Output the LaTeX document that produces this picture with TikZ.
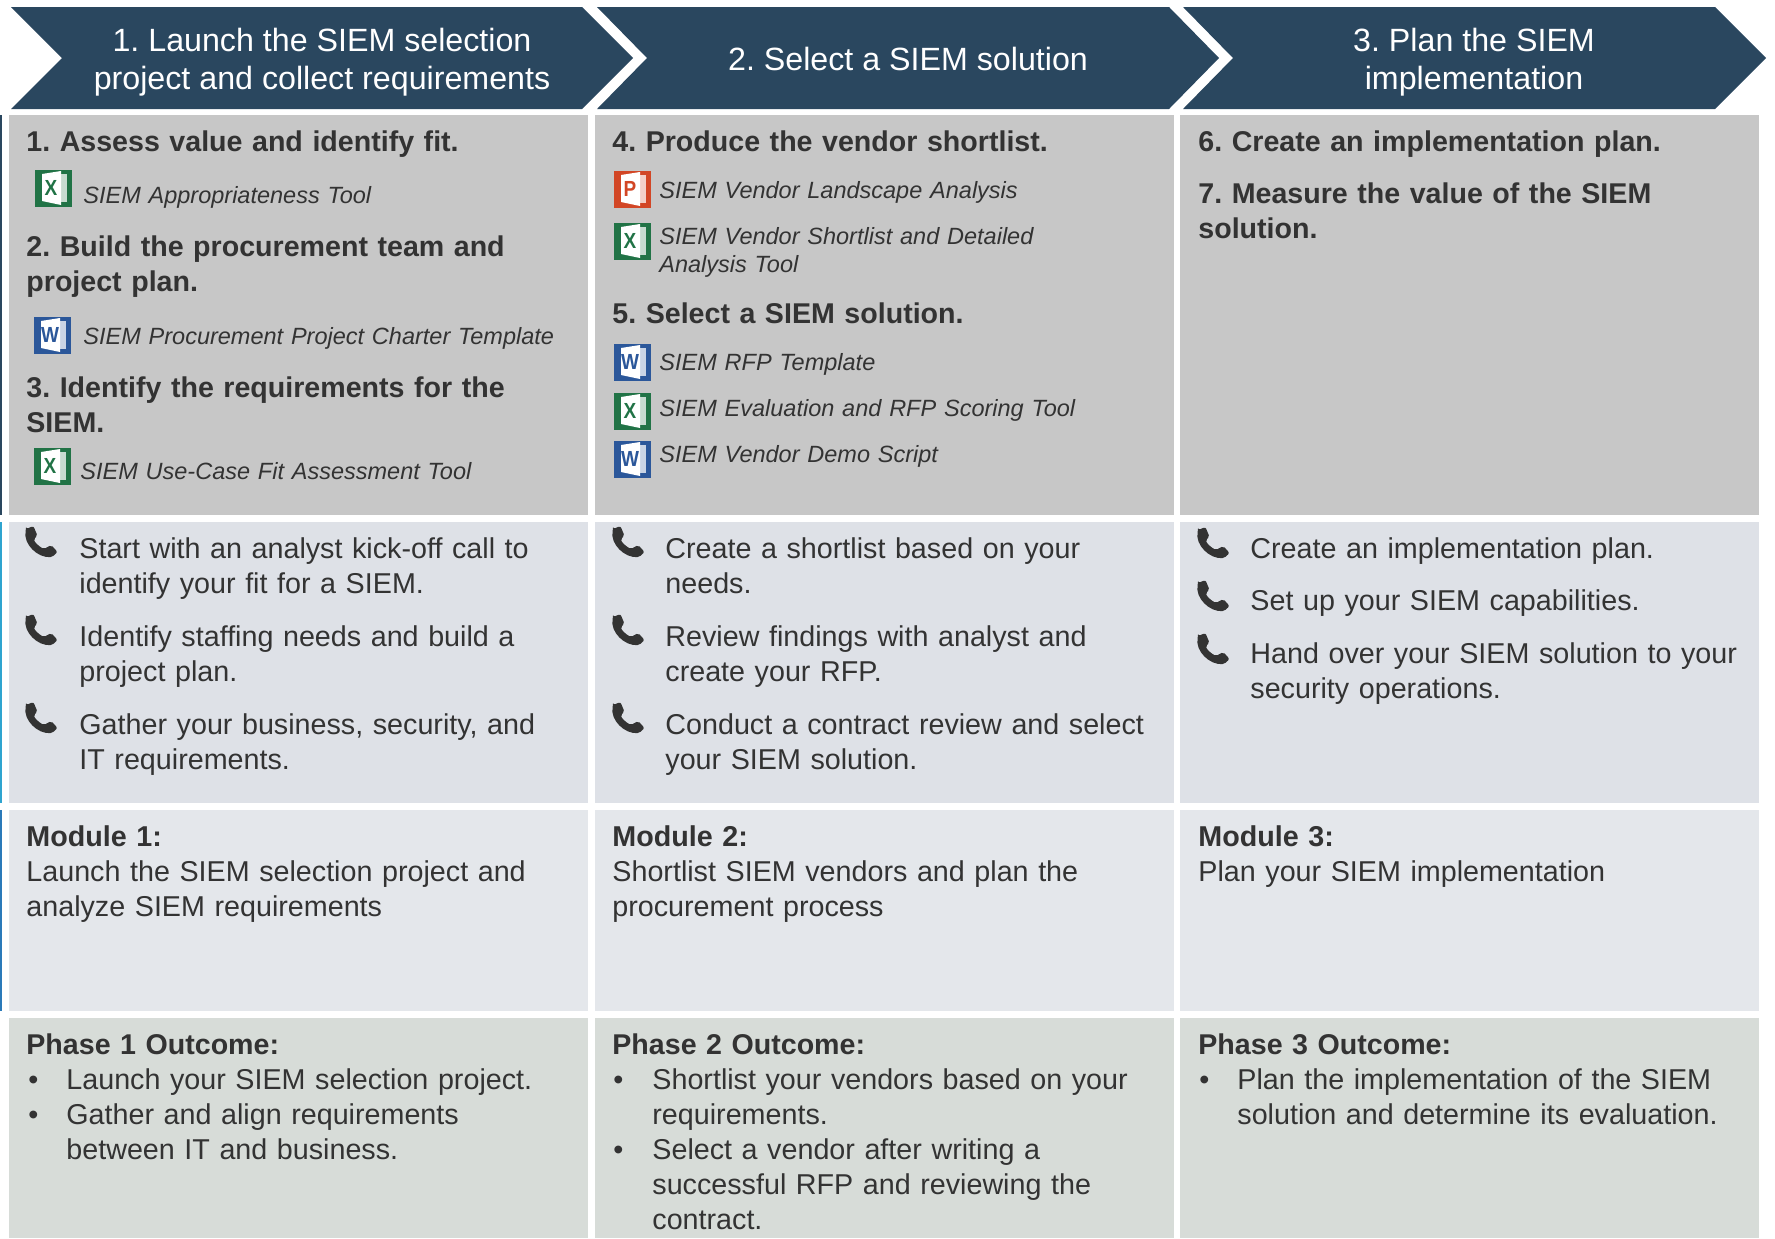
\documentclass[tikz,border=0pt]{standalone}
\usepackage{fontspec}
\setmainfont{Liberation Sans}
\frenchspacing
\definecolor{hdrblue}{rgb}{0.165,0.278,0.373}
\definecolor{txtgray}{rgb}{0.2,0.2,0.2}
\definecolor{rowa}{rgb}{0.78,0.78,0.78}
\definecolor{rowb}{rgb}{0.871,0.882,0.906}
\definecolor{rowc}{rgb}{0.894,0.906,0.922}
\definecolor{rowd}{rgb}{0.843,0.863,0.847}
\definecolor{stripa}{rgb}{0.165,0.278,0.373}
\definecolor{stripb}{rgb}{0.184,0.643,0.812}
\definecolor{stripc}{rgb}{0.165,0.478,0.725}
\definecolor{xlgreen}{rgb}{0.129,0.451,0.275}
\definecolor{ppred}{rgb}{0.824,0.275,0.145}
\definecolor{wdblue}{rgb}{0.169,0.341,0.604}
\newcommand{\fileicon}[5]{%
\fill [color=#3,shift={(#1,#2)}] (0,0) rectangle (37,37);
\fill [color=white,opacity=0.75,shift={(#1,#2)}] (25,4) rectangle (32,32);
\fill [color=white,shift={(#1,#2)}] (7,4) -- (26,1) -- (26,35) -- (7,31) -- cycle;
\node [color=#3,font=\fontsize{9.5}{9.5}\selectfont\bfseries,inner sep=0pt,yscale=1.15] (#5) at ([shift={(16,17.5)}]#1,#2) {#4};
}
\newcommand{\phoneicon}[2]{%
\fill [color=txtgray,rounded corners=1pt,shift={(#1,#2)},xscale=1.05] (1,3) -- (8,0) -- (12,10) -- (8,13) .. controls (10,17) and (13,20) .. (18,23) -- (25,19) -- (31,26) -- (26,31) .. controls (12,32) and (-2,18) .. (1,3) -- cycle;
}
\begin{document}
\begin{tikzpicture}[line cap=round,line join=round,x=0.5pt,y=-0.5pt,
 hdrtxt/.style={color=white,align=center,inner sep=0pt,font=\fontsize{16.1}{19}\selectfont},
 headtxt/.style={color=txtgray,anchor=base west,inner sep=0pt,text width=285pt,align=left,font=\fontsize{14.3}{17.6}\selectfont\bfseries},
 tooltxt/.style={color=txtgray,anchor=base west,inner sep=0pt,text width=240pt,align=left,font=\fontsize{11.75}{14.2}\selectfont\itshape},
 bodytxt/.style={color=txtgray,anchor=base west,inner sep=0pt,text width=285pt,align=left,font=\fontsize{14.35}{17.6}\selectfont},
 bulltxt/.style={color=txtgray,anchor=base west,inner sep=0pt,font=\fontsize{14.35}{17.6}\selectfont}]
\useasboundingbox (0,0) rectangle (1775,1238);
\clip (0,0) rectangle (1775,1238);
% side strips
\fill [color=stripa] (0,115) rectangle (2,515);
\fill [color=stripb] (0,522) rectangle (2,803);
\fill [color=stripc] (0,810) rectangle (2,1011);
% rows
\foreach \x in {9,594.5,1180} {
\fill [color=rowa] (\x,115) rectangle (\x+579,515);
\fill [color=rowb] (\x,522) rectangle (\x+579,803);
\fill [color=rowc] (\x,810) rectangle (\x+579,1011);
\fill [color=rowd] (\x,1018) rectangle (\x+579,1238);
}
% header arrows
\fill [color=hdrblue] (11,7) -- (582,7) -- (633,58) -- (582,109) -- (11,109) -- (62,58) -- cycle;
\fill [color=hdrblue] (597,7) -- (1169,7) -- (1219,58) -- (1169,109) -- (597,109) -- (647,58) -- cycle;
\fill [color=hdrblue] (1183,7) -- (1715,7) -- (1766,58) -- (1715,109) -- (1183,109) -- (1233,58) -- cycle;
\node [hdrtxt] (hdra) at (322,62) {1. Launch the SIEM selection\\project and collect requirements};
\node [hdrtxt] (hdrb) at (908,59) {2. Select a SIEM solution};
\node [hdrtxt] (hdrc) at (1474,62) {3. Plan the SIEM\\implementation};
% first column, steps
\node [headtxt] (stepa) at (26,151) {1. Assess value and identify fit.};
\fileicon{35}{170}{xlgreen}{X}{iconxa}
\node [tooltxt] (toola) at (83,203) {SIEM Appropriateness Tool};
\node [headtxt] (stepb) at (26,256) {2. Build the procurement team and\\project plan.};
\fileicon{34}{317}{wdblue}{W}{iconwa}
\node [tooltxt] (toolb) at (83,344) {SIEM Procurement Project Charter Template};
\node [headtxt] (stepc) at (26,397) {3. Identify the requirements for the\\SIEM.};
\fileicon{34}{448}{xlgreen}{X}{iconxb}
\node [tooltxt] (toolc) at (80,479) {SIEM Use-Case Fit Assessment Tool};
% second column, steps
\node [headtxt] (stepd) at (612,151) {4. Produce the vendor shortlist.};
\fileicon{614}{171}{ppred}{P}{iconpa}
\node [tooltxt] (toold) at (659,198) {SIEM Vendor Landscape Analysis};
\fileicon{614}{223}{xlgreen}{X}{iconxc}
\node [tooltxt] (toole) at (659,244) {SIEM Vendor Shortlist and Detailed\\Analysis Tool};
\node [headtxt] (stepe) at (612,323) {5. Select a SIEM solution.};
\fileicon{614}{344}{wdblue}{W}{iconwb}
\node [tooltxt] (toolf) at (659,370) {SIEM RFP Template};
\fileicon{614}{393}{xlgreen}{X}{iconxd}
\node [tooltxt] (toolg) at (659,416) {SIEM Evaluation and RFP Scoring Tool};
\fileicon{614}{441}{wdblue}{W}{iconwc}
\node [tooltxt] (toolh) at (659,462) {SIEM Vendor Demo Script};
% third column, steps
\node [headtxt] (stepf) at (1198,151) {6. Create an implementation plan.};
\node [headtxt] (stepg) at (1198,203) {7. Measure the value of the SIEM\\solution.};
% calls
\phoneicon{25}{526}
\node [bodytxt] (calla) at (79,558) {Start with an analyst kick-off call to\\identify your fit for a SIEM.};
\phoneicon{25}{614}
\node [bodytxt] (callb) at (79,646) {Identify staffing needs and build a\\project plan.};
\phoneicon{25}{702}
\node [bodytxt] (callc) at (79,734) {Gather your business, security, and\\IT requirements.};
\phoneicon{612}{526}
\node [bodytxt] (calld) at (665,558) {Create a shortlist based on your\\needs.};
\phoneicon{612}{614}
\node [bodytxt] (calle) at (665,646) {Review findings with analyst and\\create your RFP.};
\phoneicon{612}{702}
\node [bodytxt] (callf) at (665,734) {Conduct a contract review and select\\your SIEM solution.};
\phoneicon{1197}{527}
\node [bodytxt] (callg) at (1250,558) {Create an implementation plan.};
\phoneicon{1197}{580}
\node [bodytxt] (callh) at (1250,610) {Set up your SIEM capabilities.};
\phoneicon{1197}{633}
\node [bodytxt] (calli) at (1250,663) {Hand over your SIEM solution to your\\security operations.};
% modules
\node [bodytxt] (moda) at (26,846) {\textbf{Module 1:}\\Launch the SIEM selection project and\\analyze SIEM requirements};
\node [bodytxt] (modb) at (612,846) {\textbf{Module 2:}\\Shortlist SIEM vendors and plan the\\procurement process};
\node [bodytxt] (modc) at (1198,846) {\textbf{Module 3:}\\Plan your SIEM implementation};
% outcomes
\node [headtxt] (outa) at (26,1054) {Phase 1 Outcome:};
\node [bulltxt] (bula) at (28,1089) {\textbullet};
\node [bodytxt] (outb) at (66,1089) {Launch your SIEM selection project.};
\node [bulltxt] (bulb) at (28,1124) {\textbullet};
\node [bodytxt] (outc) at (66,1124) {Gather and align requirements\\between IT and business.};
\node [headtxt] (outd) at (612,1054) {Phase 2 Outcome:};
\node [bulltxt] (bulc) at (613,1089) {\textbullet};
\node [bodytxt] (oute) at (652,1089) {Shortlist your vendors based on your\\requirements.};
\node [bulltxt] (buld) at (613,1159) {\textbullet};
\node [bodytxt] (outf) at (652,1159) {Select a vendor after writing a\\successful RFP and reviewing the\\contract.};
\node [headtxt] (outg) at (1198,1054) {Phase 3 Outcome:};
\node [bulltxt] (bule) at (1199,1089) {\textbullet};
\node [bodytxt] (outh) at (1237,1089) {Plan the implementation of the SIEM\\solution and determine its evaluation.};
\end{tikzpicture}
\end{document}
